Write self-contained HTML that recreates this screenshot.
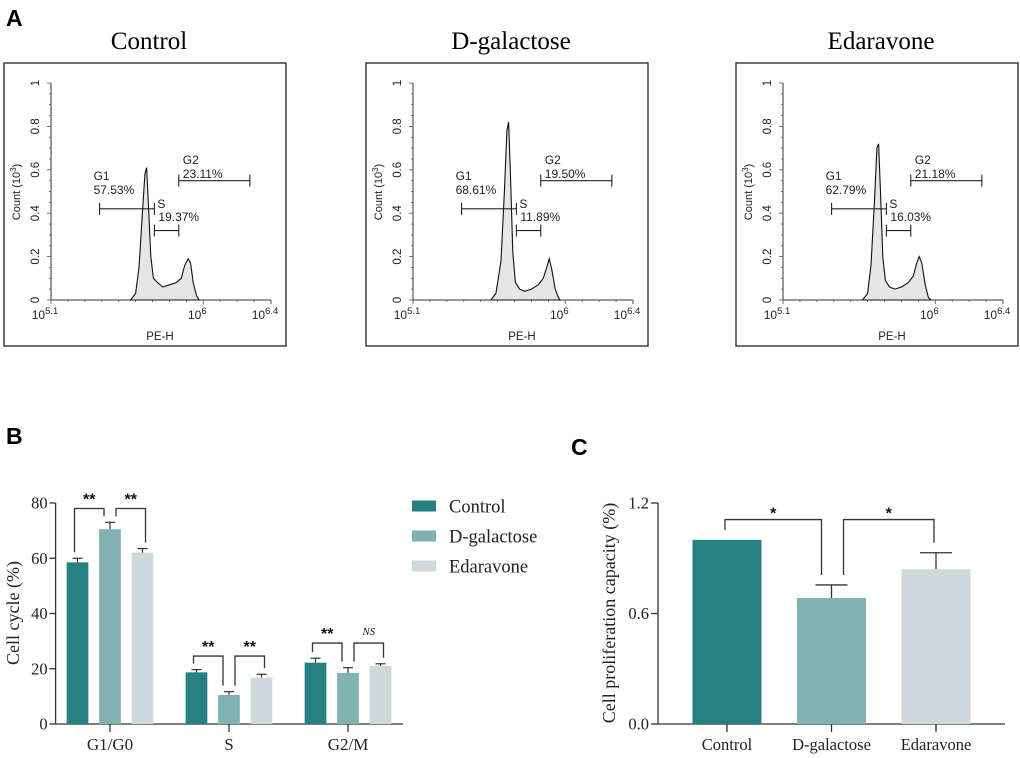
<!DOCTYPE html>
<html><head><meta charset="utf-8">
<style>
html,body{margin:0;padding:0;background:#fff;}
svg{display:block;}
.sans{font-family:"Liberation Sans",sans-serif;}
.serif{font-family:"Liberation Serif",serif;}
</style></head>
<body>
<svg id="fig" width="1020" height="758" viewBox="0 0 1020 758" xmlns="http://www.w3.org/2000/svg">
<text x="6" y="26" class="sans" font-size="23" font-weight="bold">A</text>
<text x="6" y="444" class="sans" font-size="23" font-weight="bold">B</text>
<text x="571" y="455" class="sans" font-size="23" font-weight="bold">C</text>
<g id="panelA"></g>
<g id="panelB"></g>
<g id="panelC"></g>
</svg>
<script>
// ---------- Panel A data ----------
const histTitles = ["Control", "D-galactose", "Edaravone"];
const histControl = [[5.57,0],[5.60,0.03],[5.62,0.15],[5.64,0.40],[5.655,0.58],[5.665,0.61],[5.675,0.45],[5.69,0.20],[5.705,0.10],[5.73,0.08],[5.76,0.06],[5.80,0.07],[5.84,0.08],[5.87,0.10],[5.89,0.16],[5.91,0.19],[5.925,0.17],[5.94,0.08],[5.96,0.02],[5.975,0]];
const histDgal = [[5.56,0],[5.59,0.03],[5.62,0.18],[5.64,0.50],[5.655,0.78],[5.665,0.82],[5.675,0.60],[5.69,0.22],[5.705,0.08],[5.73,0.05],[5.76,0.04],[5.80,0.05],[5.84,0.07],[5.87,0.10],[5.89,0.15],[5.905,0.19],[5.92,0.14],[5.94,0.05],[5.96,0.01],[5.97,0]];
const histEdar = [[5.57,0],[5.60,0.03],[5.62,0.16],[5.64,0.45],[5.655,0.70],[5.665,0.72],[5.675,0.52],[5.69,0.20],[5.705,0.09],[5.73,0.06],[5.76,0.05],[5.80,0.06],[5.84,0.08],[5.87,0.11],[5.89,0.17],[5.905,0.20],[5.92,0.17],[5.94,0.07],[5.96,0.01],[5.975,0]];
const gateG1 = ["57.53%", "68.61%", "62.79%"];
const gateS = ["19.37%", "11.89%", "16.03%"];
const gateG2 = ["23.11%", "19.50%", "21.18%"];
const gateBounds = [5.387, 5.711, 5.855, 6.275];
const gateLevels = [0.42, 0.32, 0.55];
const countTicks = [0, 0.2, 0.4, 0.6, 0.8, 1];
const countTickLabels = ["0", "0.2", "0.4", "0.6", "0.8", "1"];

// ---------- Panel B data ----------
const cycleCats = ["G1/G0", "S", "G2/M"];
const cycleControl = [58.5, 18.7, 22.2];
const cycleDgal = [70.5, 10.5, 18.5];
const cycleEdar = [62.0, 16.8, 21.0];
const cycleControlErr = [1.5, 1.0, 1.6];
const cycleDgalErr = [2.5, 1.2, 1.9];
const cycleEdarErr = [1.5, 1.2, 0.8];
const cycleBracketTop = [78, 24.6, 29.3];
const cycleSig1 = ["**", "**", "**"];
const cycleSig2 = ["**", "**", "NS"];
const cycleTicks = [0, 20, 40, 60, 80];

// ---------- Panel C data ----------
const prolCats = ["Control", "D-galactose", "Edaravone"];
const prolValues = [1.0, 0.684, 0.84];
const prolErr = [0, 0.071, 0.09];
const prolBracketTop = 1.11;
const prolSig = ["*", "*"];
const prolTicks = [0, 0.6, 1.2];
const prolTickLabels = ["0.0", "0.6", "1.2"];

const colors = ["#267f80", "#80b2b4", "#cdd9db"];
const NS = "http://www.w3.org/2000/svg";
function mk(tag, attrs, parent, txt) {
  const e = document.createElementNS(NS, tag);
  for (const k in attrs) e.setAttribute(k, attrs[k]);
  if (txt !== undefined) e.textContent = txt;
  parent.appendChild(e);
  return e;
}

// ---------- Panel A ----------
const pA = document.getElementById('panelA');
const hists = [histControl, histDgal, histEdar];
const boxOffsets = [0, 362, 732];
hists.forEach((h, i) => {
  const off = boxOffsets[i];
  const g = mk('g', {}, pA);
  
  
  const x0 = 51 + off, x1 = 271 + off, y0 = 300, y1 = 83;
  const xs = v => x0 + (v - 5.1) / 1.3 * (x1 - x0);
  const ys = v => y0 - v * (y0 - y1);
  const t = mk('text', {x: 149 + off, y: 49, 'text-anchor': 'middle', class: 'serif', 'font-size': 25}, g, histTitles[i]);
  
  
  const box = mk('rect', {x: 4 + off, y: 63, width: 282, height: 283, fill: 'none', stroke: '#222', 'stroke-width': 1.3}, g);
  
  
  mk('line', {x1: x0, y1: y1, x2: x0, y2: y0, stroke: '#333', 'stroke-width': 1}, g);
  mk('line', {x1: x0, y1: y0, x2: x1, y2: y0, stroke: '#333', 'stroke-width': 1}, g);
  mk('line', {x1: x1, y1: y0, x2: x1, y2: y0 + 4, stroke: '#333', 'stroke-width': 1}, g);
  for (let v = 0; v <= 1.0001; v += 0.05) {
    const major = Math.abs(v * 5 - Math.round(v * 5)) < 0.01;
    mk('line', {x1: x0 - (major ? 4 : 2), y1: ys(v), x2: x0, y2: ys(v), stroke: '#555', 'stroke-width': 0.8}, g);
  }
  countTicks.forEach((v, k) => {
    const lt = mk('text', {x: 0, y: 0, transform: `translate(${x0 - 12},${ys(v)}) rotate(-90)`, 'text-anchor': 'middle', class: 'sans', 'font-size': 11.5, fill: '#222'}, g, countTickLabels[k]);
    
    
  });
  const yt = mk('text', {transform: `translate(${x0 - 31},192) rotate(-90)`, 'text-anchor': 'middle', class: 'sans', 'font-size': 11, fill: '#222'}, g);
  yt.innerHTML = 'Count  (10<tspan dy="-4" font-size="8">3</tspan><tspan dy="4">)</tspan>';
  
  
  [5.1, 5.2, 5.3, 5.4, 5.5, 5.6, 5.7, 5.8, 5.9, 6.0, 6.1, 6.2, 6.3, 6.4].forEach(v => {
    const major = (Math.abs(v - 5.1) < 0.01 || Math.abs(v - 6) < 0.01 || Math.abs(v - 6.4) < 0.01);
    mk('line', {x1: xs(v), y1: y0, x2: xs(v), y2: y0 + (major ? 4 : 2), stroke: '#555', 'stroke-width': 0.8}, g);
  });
  [[5.1, '5.1'], [6.0, '6'], [6.4, '6.4']].forEach(([v, s]) => {
    const xt = mk('text', {x: xs(v) - 6, y: 319, 'text-anchor': 'middle', class: 'sans', 'font-size': 12, fill: '#222'}, g);
    xt.innerHTML = '10<tspan dy="-5" font-size="9.5">' + s + '</tspan>';
    
    
  });
  const xl = mk('text', {x: 160 + off, y: 340, 'text-anchor': 'middle', class: 'sans', 'font-size': 11.5, fill: '#222'}, g, 'PE-H');
  
  
  let d = '';
  h.forEach((p, k) => { d += (k ? 'L' : 'M') + xs(p[0]).toFixed(1) + ',' + ys(p[1]).toFixed(1); });
  const path = mk('path', {d: d + 'Z', fill: '#e6e6e6', stroke: '#111', 'stroke-width': 1.1}, g);
  
  
  const gates = [[gateBounds[0], gateBounds[1], gateLevels[0]], [gateBounds[1], gateBounds[2], gateLevels[1]], [gateBounds[2], gateBounds[3], gateLevels[2]]];
  gates.forEach(([a, b, lv]) => {
    const gg = mk('g', {stroke: '#222', 'stroke-width': 1.1}, g);
    
    
    mk('line', {x1: xs(a), y1: ys(lv), x2: xs(b), y2: ys(lv)}, gg);
    mk('line', {x1: xs(a), y1: ys(lv) - 6, x2: xs(a), y2: ys(lv) + 6}, gg);
    mk('line', {x1: xs(b), y1: ys(lv) - 6, x2: xs(b), y2: ys(lv) + 6}, gg);
  });
  const lab = (x, y, s) => {
    const e = mk('text', {x: x, y: y, class: 'sans', 'font-size': 12, fill: '#222'}, g, s);
    
    
  };
  lab(xs(gateBounds[0]) - 6, 180, 'G1');
  lab(xs(gateBounds[0]) - 6, 194, gateG1[i]);
  lab(xs(gateBounds[1]) + 3, 208, 'S');
  lab(xs(gateBounds[1]) + 4, 221, gateS[i]);
  lab(xs(gateBounds[2]) + 4, 164, 'G2');
  lab(xs(gateBounds[2]) + 4, 178, gateG2[i]);
});

// ---------- Panel B ----------
const pB = document.getElementById('panelB');
(function () {
  const ax = 55.6, axEnd = 403, y0 = 724, pxPer = (724 - 503) / 80;
  const ys = v => y0 - v * pxPer;
  const xc = k => 110 + k * 119;
  const offs = [-32.5, 0, 32.5];
  const bw = 21.7;
  mk('line', {x1: ax, y1: 503, x2: ax, y2: y0, stroke: '#333', 'stroke-width': 1.3}, pB);
  mk('line', {x1: ax, y1: y0, x2: axEnd, y2: y0, stroke: '#333', 'stroke-width': 1.3}, pB);
  cycleTicks.forEach(v => {
    mk('line', {x1: ax - 6, y1: ys(v), x2: ax, y2: ys(v), stroke: '#333', 'stroke-width': 1.3}, pB);
    const t = mk('text', {x: ax - 8, y: ys(v) + 5.5, 'text-anchor': 'end', class: 'serif', 'font-size': 16.5, fill: '#222'}, pB, String(v));
    
    
  });
  const yt = mk('text', {transform: 'translate(19,613) rotate(-90)', 'text-anchor': 'middle', class: 'serif', 'font-size': 18, fill: '#222'}, pB, 'Cell cycle (%)');
  
  
  const series = [cycleControl, cycleDgal, cycleEdar];
  const errs = [cycleControlErr, cycleDgalErr, cycleEdarErr];
  cycleCats.forEach((c, k) => {
    mk('line', {x1: xc(k), y1: y0, x2: xc(k), y2: y0 + 8, stroke: '#333', 'stroke-width': 1.3}, pB);
    const t = mk('text', {x: xc(k), y: 750, 'text-anchor': 'middle', class: 'serif', 'font-size': 17, fill: '#222'}, pB, c);
    
    
    series.forEach((s, j) => {
      const cx = xc(k) + offs[j];
      const top = ys(s[k] + errs[j][k]);
      mk('line', {x1: cx, y1: ys(s[k]), x2: cx, y2: top, stroke: '#333', 'stroke-width': 1.2}, pB);
      mk('line', {x1: cx - 5, y1: top, x2: cx + 5, y2: top, stroke: '#333', 'stroke-width': 1.2}, pB);
      const r = mk('rect', {x: cx - bw / 2, y: ys(s[k]), width: bw, height: y0 - ys(s[k]), fill: colors[j]}, pB);
      
      
    });
    const bt = ys(cycleBracketTop[k]);
    const endY = j => ys(series[j][k] + errs[j][k]) - 6;
    const bg = mk('g', {fill: 'none', stroke: '#333', 'stroke-width': 1.3}, pB);
    
    
    const l0 = xc(k) + offs[0] - 3, m1 = xc(k) - 6, m2 = xc(k) + 6, r2 = xc(k) + offs[2] + 3;
    mk('polyline', {points: `${l0},${endY(0)} ${l0},${bt} ${m1},${bt} ${m1},${endY(1)}`}, bg);
    mk('polyline', {points: `${m2},${endY(1)} ${m2},${bt} ${r2},${bt} ${r2},${endY(2)}`}, bg);
    const s1 = mk('text', {x: (l0 + m1) / 2, y: bt - 4, 'text-anchor': 'middle', class: 'sans', 'font-size': 16, 'font-weight': 'bold', fill: '#111'}, pB, cycleSig1[k]);
    
    
    const isNS = cycleSig2[k] === 'NS';
    const s2 = mk('text', {x: (m2 + r2) / 2, y: bt - (isNS ? 8 : 4), 'text-anchor': 'middle', class: isNS ? 'serif' : 'sans', 'font-size': isNS ? 11 : 16, 'font-weight': isNS ? 'normal' : 'bold', 'font-style': isNS ? 'italic' : 'normal', fill: '#111'}, pB, cycleSig2[k]);
    
    
  });
  const names = ["Control", "D-galactose", "Edaravone"];
  names.forEach((n, j) => {
    const lg = mk('g', {}, pB);
    
    
    const cy = 506 + j * 30;
    mk('rect', {x: 412, y: cy - 5.5, width: 24, height: 11, fill: colors[j]}, lg);
    mk('text', {x: 449, y: cy + 6.5, class: 'serif', 'font-size': 18.5, fill: '#222'}, lg, n);
  });
})();

// ---------- Panel C ----------
const pC = document.getElementById('panelC');
(function () {
  const ax = 658, axEnd = 1005, y0 = 724, pxPer = (724 - 503) / 1.2;
  const ys = v => y0 - v * pxPer;
  const xc = k => 727 + k * 104.5;
  const bw = 69;
  mk('line', {x1: ax, y1: 503, x2: ax, y2: y0, stroke: '#333', 'stroke-width': 1.3}, pC);
  mk('line', {x1: ax, y1: y0, x2: axEnd, y2: y0, stroke: '#333', 'stroke-width': 1.3}, pC);
  prolTicks.forEach((v, i) => {
    mk('line', {x1: ax - 7, y1: ys(v), x2: ax, y2: ys(v), stroke: '#333', 'stroke-width': 1.3}, pC);
    const t = mk('text', {x: ax - 9, y: ys(v) + 5.5, 'text-anchor': 'end', class: 'serif', 'font-size': 16.5, fill: '#222'}, pC, prolTickLabels[i]);
    
    
  });
  const yt = mk('text', {transform: 'translate(615,613) rotate(-90)', 'text-anchor': 'middle', class: 'serif', 'font-size': 18, fill: '#222'}, pC, 'Cell proliferation capacity (%)');
  
  
  prolCats.forEach((c, k) => {
    const cx = xc(k);
    mk('line', {x1: cx, y1: y0, x2: cx, y2: y0 + 8, stroke: '#333', 'stroke-width': 1.3}, pC);
    const t = mk('text', {x: cx, y: 750, 'text-anchor': 'middle', class: 'serif', 'font-size': 16.5, fill: '#222'}, pC, c);
    
    
    if (prolErr[k] > 0) {
      const top = ys(prolValues[k] + prolErr[k]);
      mk('line', {x1: cx, y1: ys(prolValues[k]), x2: cx, y2: top, stroke: '#333', 'stroke-width': 1.3}, pC);
      mk('line', {x1: cx - 16, y1: top, x2: cx + 16, y2: top, stroke: '#333', 'stroke-width': 1.3}, pC);
    }
    const r = mk('rect', {x: cx - bw / 2, y: ys(prolValues[k]), width: bw, height: y0 - ys(prolValues[k]), fill: colors[k]}, pC);
    
    
  });
  const bt = ys(prolBracketTop);
  const endY = k => ys(prolValues[k] + prolErr[k]) - 10;
  const bg = mk('g', {fill: 'none', stroke: '#333', 'stroke-width': 1.3}, pC);
  
  
  const a = xc(0) - 2, b = xc(1) - 10, c2 = xc(1) + 12, d = xc(2) - 2;
  mk('polyline', {points: `${a},${endY(0)} ${a},${bt} ${b},${bt} ${b},${endY(1)}`}, bg);
  mk('polyline', {points: `${c2},${endY(1)} ${c2},${bt} ${d},${bt} ${d},${endY(2)}`}, bg);
  [[(a + b) / 2, prolSig[0]], [(c2 + d) / 2, prolSig[1]]].forEach(([x, s]) => {
    const t = mk('text', {x: x, y: bt - 1, 'text-anchor': 'middle', class: 'sans', 'font-size': 16, 'font-weight': 'bold', fill: '#111'}, pC, s);
    
    
  });
})();
</script>
</body></html>
